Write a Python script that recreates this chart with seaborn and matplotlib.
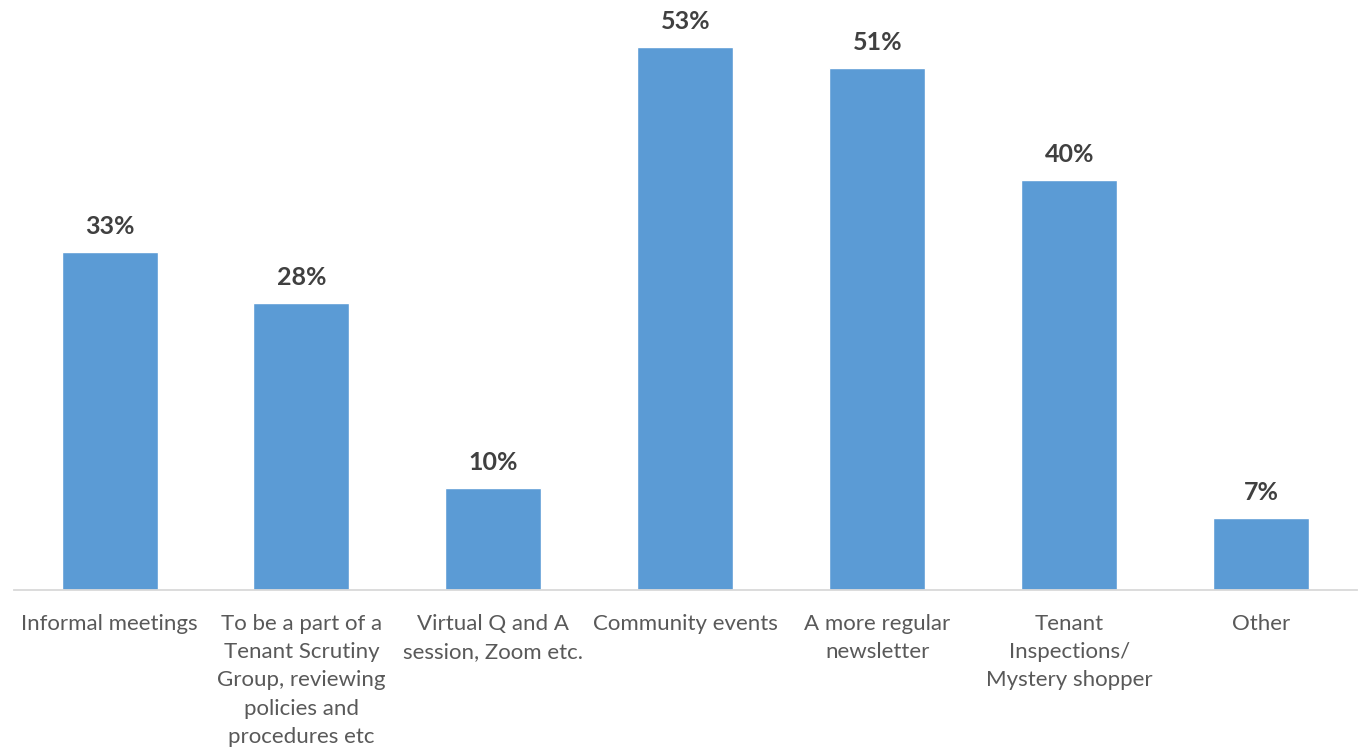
import matplotlib
matplotlib.use("Agg")
import matplotlib.pyplot as plt
import seaborn as sns
import pandas as pd

categories = [
    "Informal meetings",
    "To be a part of a\nTenant Scrutiny\nGroup, reviewing\npolicies and\nprocedures etc",
    "Virtual Q and A\nsession, Zoom etc.",
    "Community events",
    "A more regular\nnewsletter",
    "Tenant\nInspections/\nMystery shopper",
    "Other",
]
values = [33, 28, 10, 53, 51, 40, 7]
value_labels = ["33%", "28%", "10%", "53%", "51%", "40%", "7%"]

sns.set_theme(style="white")
plt.rcParams["font.family"] = ["Lato", "DejaVu Sans"]

df = pd.DataFrame({"category": categories, "value": values})

fig = plt.figure(figsize=(13.68, 7.5), dpi=100)
ax = fig.add_axes([0.0099, 0.2133, 0.9822, 0.7867])

sns.barplot(data=df, x="category", y="value", color="#5B9BD5",
            width=0.5, saturation=1, ax=ax)

ax.set_ylim(0, 57.6)
ax.set_xlim(-0.5, len(categories) - 0.5)
ax.set_xlabel("")
ax.set_ylabel("")
ax.set_yticks([])

for spine in ["top", "right", "left"]:
    ax.spines[spine].set_visible(False)
ax.spines["bottom"].set_color("#D9D9D9")
ax.spines["bottom"].set_linewidth(1.3)

ax.tick_params(axis="x", length=0, pad=17, labelsize=16, labelcolor="#595959")
for lbl in ax.get_xticklabels():
    lbl.set_verticalalignment("top")
    lbl.set_linespacing(1.52)

for i, (v, t) in enumerate(zip(values, value_labels)):
    ax.annotate(t, xy=(i, v), xytext=(0, 10), textcoords="offset points",
                ha="center", va="bottom", fontsize=18, fontweight="bold",
                color="#404040")

fig.savefig("out.png", dpi=100)
